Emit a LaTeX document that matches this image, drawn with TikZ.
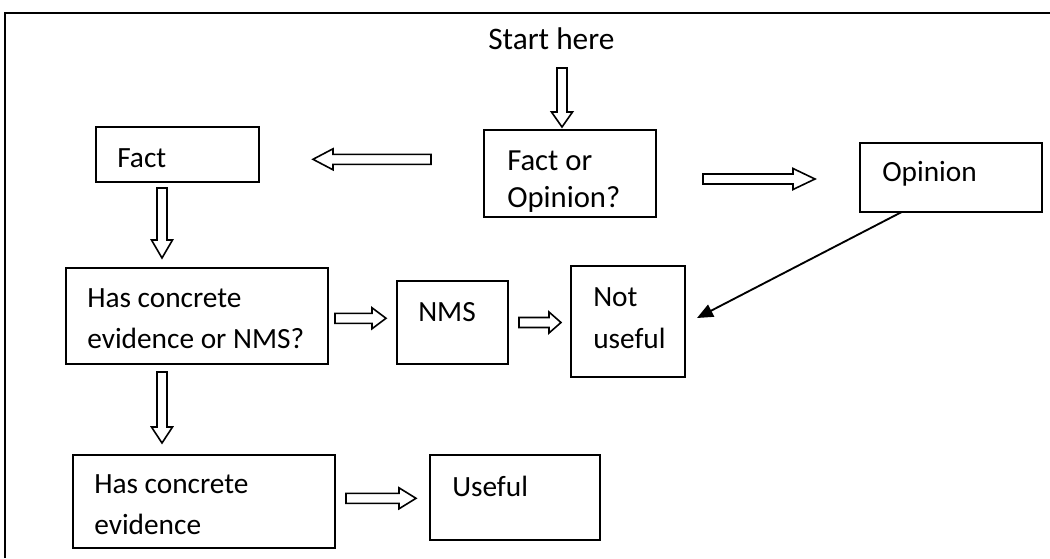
\documentclass[tikz,border=0pt]{standalone}
\usepackage{fontspec}
\setmainfont{Carlito}
\usetikzlibrary{arrows.meta,calc}
\tikzset{
  box/.style={draw, line width=1.3pt, inner sep=0pt, outer sep=0pt},
  txt/.style={inner sep=0pt, anchor=base west, font=\fontsize{22}{26}\selectfont},
  blk/.style={draw, line width=1.2pt, fill=white, line join=miter},
  thinarrow/.style={draw, line width=1.4pt, -{Triangle[length=12pt,width=10pt]}},
  frame/.style={draw, line width=1.8pt}
}
% #1,#2 tail point, #3 angle, #4 total length, #5 head length
\newcommand\blockarr[5]{%
  \draw[blk, shift={(#1,#2)}, rotate=#3]
    (0,-5) -- (#4-#5,-5) -- (#4-#5,-10.5) -- (#4,0) -- (#4-#5,10.5) -- (#4-#5,5) -- (0,5) -- cycle;}
\begin{document}
\begin{tikzpicture}[x=0.75pt,y=-0.75pt]
\useasboundingbox (0,0) rectangle (1050,558);
% outer frame
\draw[frame] (5,558) -- (5,13) -- (1050,13);

% boxes
\node[box, minimum width=163*0.75pt, minimum height=55*0.75pt] (fact) at (177.5,154.5) {};
\node[box, minimum width=172*0.75pt, minimum height=87*0.75pt] (foo) at (570,173.5) {};
\node[box, minimum width=182*0.75pt, minimum height=69*0.75pt] (op) at (951,177.5) {};
\node[box, minimum width=262*0.75pt, minimum height=96*0.75pt] (hn) at (197,316) {};
\node[box, minimum width=111*0.75pt, minimum height=83*0.75pt] (nms) at (452.5,322.5) {};
\node[box, minimum width=114*0.75pt, minimum height=111*0.75pt] (nu) at (628,321.5) {};
\node[box, minimum width=262*0.75pt, minimum height=93*0.75pt] (hce) at (204,501.5) {};
\node[box, minimum width=170*0.75pt, minimum height=85*0.75pt] (use) at (515,497.5) {};

% texts
\node[txt, font=\fontsize{23.5}{28}\selectfont] (startT) at (488,49) {Start here};
\node[txt] (factT) at (117,167) {Fact};
\node[txt, font=\fontsize{23}{28}\selectfont] (fooT1) at (507,170) {Fact or};
\node[txt, font=\fontsize{23}{28}\selectfont] (fooT2) at (507,207) {Opinion?};
\node[txt] (opT) at (882,181) {Opinion};
\node[txt] (hnT1) at (87,307) {Has concrete};
\node[txt] (hnT2) at (87,348) {evidence or NMS?};
\node[txt] (nmsT) at (418,321) {NMS};
\node[txt] (nuT1) at (593,306) {Not};
\node[txt] (nuT2) at (593,348) {useful};
\node[txt] (hceT1) at (94,493) {Has concrete};
\node[txt] (hceT2) at (94,534) {evidence};
\node[txt] (useT) at (452,496) {Useful};

% block arrows
\blockarr{562}{68}{-90}{59}{15}   % start -> fact or opinion
\blockarr{431}{159.3}{180}{118}{20} % -> fact
\blockarr{703}{179}{0}{112}{22}   % -> opinion
\blockarr{162}{188}{-90}{70}{18}  % fact -> has NMS
\blockarr{335}{318.3}{0}{51}{14}  % -> NMS
\blockarr{162}{372}{-90}{71}{16}  % -> has concrete evidence
\blockarr{519}{322.5}{0}{42}{12}  % NMS -> not useful
\blockarr{346}{498.3}{0}{70}{17}  % -> useful

% opinion -> not useful
\draw[thinarrow] ($(op.south west)+(41.7,0)$) -- ($(nu.east)+(12,-3.5)$);
\end{tikzpicture}
\end{document}
